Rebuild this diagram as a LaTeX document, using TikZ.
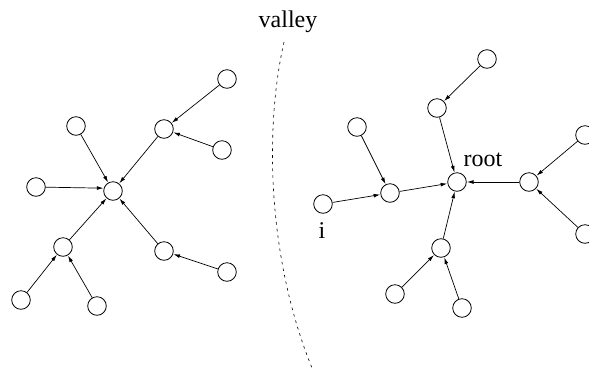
\documentclass[tikz,border=0pt]{standalone}
\usepackage{fontspec}
\setmainfont{Liberation Serif}
\usetikzlibrary{arrows.meta}
\tikzset{
  vtx/.style={circle, draw, line width=0.8pt, minimum size=18.6pt, inner sep=0pt},
  edge/.style={line width=0.7pt, -{Latex[length=6.5pt,width=3.8pt]}, shorten >=0.3pt},
  lbl/.style={font=\fontsize{24}{28}\selectfont, inner sep=0pt, anchor=base},
  ridge/.style={line width=0.6pt, dash pattern=on 2.7pt off 4pt}
}
\begin{document}
\begin{tikzpicture}[x=1pt, y=-1pt]
\useasboundingbox (0,0) rectangle (589,373);

% left tree
\node[vtx] (c)  at (113,191) {};
\node[vtx] (a)  at (36,187) {};
\node[vtx] (b)  at (76,126) {};
\node[vtx] (d)  at (164,129) {};
\node[vtx] (d1) at (227,79) {};
\node[vtx] (d2) at (222,150) {};
\node[vtx] (e)  at (63,247) {};
\node[vtx] (e1) at (21,300) {};
\node[vtx] (e2) at (97,306) {};
\node[vtx] (f)  at (164,251) {};
\node[vtx] (f1) at (227,272) {};

\draw[edge] (a) -- (c.163);
\draw[edge] (b) -- (c);
\draw[edge] (d) -- (c);
\draw[edge] (d1) -- (d);
\draw[edge] (d2) -- (d);
\draw[edge] (e) -- (c);
\draw[edge] (e1) -- (e);
\draw[edge] (e2) -- (e);
\draw[edge] (f) -- (c);
\draw[edge] (f1) -- (f);

% right tree
\node[vtx] (r)  at (457,182) {};
\node[vtx] (p)  at (390,193) {};
\node[vtx] (i)  at (323,204) {};
\node[vtx] (p1) at (357,127) {};
\node[vtx] (q)  at (437,108) {};
\node[vtx] (q1) at (487,59) {};
\node[vtx] (s)  at (529,182) {};
\node[vtx] (s1) at (585,135) {};
\node[vtx] (s2) at (585,234) {};
\node[vtx] (t)  at (441,248) {};
\node[vtx] (t1) at (395,294) {};
\node[vtx] (t2) at (462,308) {};

\draw[edge] (i) -- (p);
\draw[edge] (p1) -- (p);
\draw[edge] (p) -- (r);
\draw[edge] (q) -- (r);
\draw[edge] (q1) -- (q);
\draw[edge] (s) -- (r);
\draw[edge] (s1) -- (s);
\draw[edge] (s2) -- (s);
\draw[edge] (t) -- (r);
\draw[edge] (t1) -- (t);
\draw[edge] (t2) -- (t);

\node[lbl] (rootlbl) at (483,166) {root};
\node[lbl] (ilbl) at (322,238) {i};

% valley boundary
\node[lbl] (valley) at (288,27) {valley};
\draw[ridge] (284,42) .. controls (264,130) and (268,260) .. (312,368);
\end{tikzpicture}
\end{document}
